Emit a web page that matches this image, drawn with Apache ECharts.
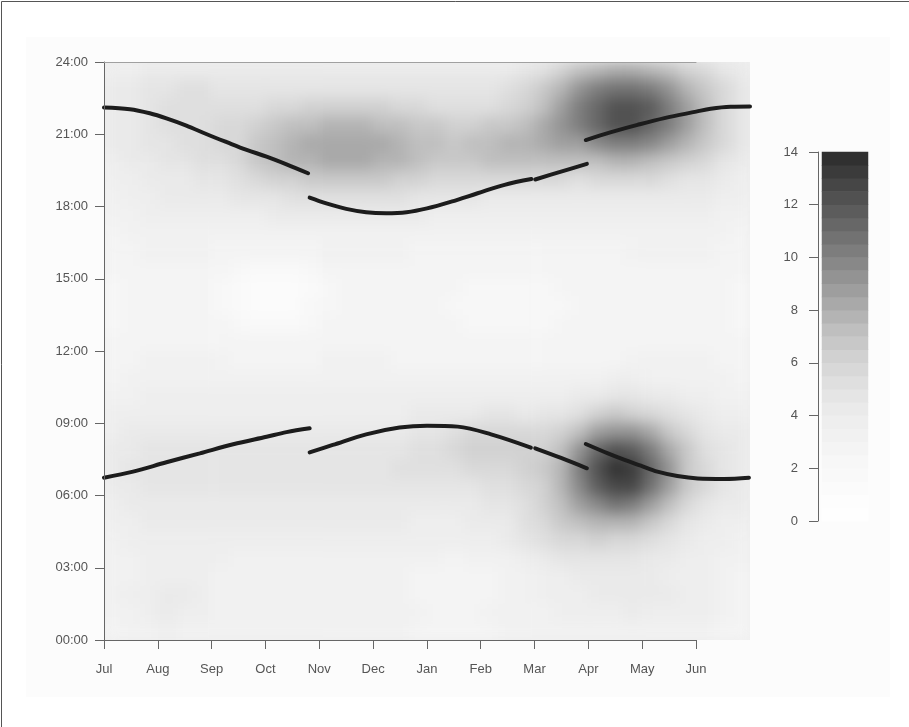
<!DOCTYPE html>
<html><head><meta charset="utf-8">
<script src="https://cdn.jsdelivr.net/npm/echarts@6/dist/echarts.min.js"></script>
<style>
html,body{margin:0;padding:0;background:#fff}
.abs{position:absolute}
#bg{left:0;top:0;width:909px;height:727px;background:#fff}
#panel{left:26px;top:37px;width:864px;height:660px;background:#fcfcfc}
#hw{left:104px;top:62px;width:646px;height:578px;overflow:hidden;background:#efefef}
#hm{width:646px;height:578px;filter:url(#sm)}
#c{left:0;top:0;width:909px;height:727px}
</style>
</head><body>
<svg width="0" height="0" style="position:absolute">
  <filter id="sm" x="0" y="0" width="1" height="1" filterUnits="objectBoundingBox" color-interpolation-filters="sRGB">
    <feGaussianBlur stdDeviation="7" edgeMode="duplicate"/>
  </filter>
</svg>
<div id="bg" class="abs"></div>
<div id="panel" class="abs"></div>
<div id="hw" class="abs"><div id="hm"></div></div>
<div id="c" class="abs"></div>
<script>
// ---- tick labels ----
const months = ['Jul','Aug','Sep','Oct','Nov','Dec','Jan','Feb','Mar','Apr','May','Jun'];
const timeTicks = ['00:00','03:00','06:00','09:00','12:00','15:00','18:00','21:00','24:00'];
const legendTicks = [0,2,4,6,8,10,12,14];
// colour bar levels (centres of the 0.5-wide bands)
const legendLevels = [0.25,0.75,1.25,1.75,2.25,2.75,3.25,3.75,4.25,4.75,5.25,5.75,6.25,6.75,7.25,7.75,8.25,8.75,9.25,9.75,10.25,10.75,11.25,11.75,12.25,12.75,13.25,13.75];

// ---- heat grid: 32 rows of 45 min (top row = 23:15-24:00), 36 columns of 1/3 month (from 1 Jul) ----
const heatRows = [
[3.5,3.9,4.2,4.3,4.3,4.3,4.2,4.1,4.1,4.0,4.0,4.1,4.1,4.1,4.1,4.1,4.0,4.0,4.0,4.0,4.0,4.1,4.3,4.8,5.4,6.1,7.0,7.7,8.2,8.2,7.8,7.1,6.3,5.5,4.6,4.0],
[4.0,4.3,4.8,4.9,5.0,5.0,4.8,4.8,4.7,4.7,4.7,4.8,4.9,4.9,4.9,4.8,4.7,4.7,4.6,4.5,4.6,4.7,5.0,5.6,6.5,7.7,9.0,10.1,10.8,10.9,10.3,9.2,7.9,6.7,5.5,4.6],
[4.1,4.4,4.9,5.1,5.2,5.2,5.2,5.2,5.3,5.7,5.9,6.0,6.1,6.2,6.1,6.0,5.9,5.7,5.2,5.1,5.1,5.3,5.7,6.3,7.3,8.6,10.1,11.4,12.3,12.4,11.6,10.3,8.8,7.3,5.9,4.8],
[4.1,4.4,4.8,5.0,5.1,5.3,5.5,5.7,6.4,6.8,7.1,7.3,7.5,7.6,7.5,7.3,7.1,6.8,6.5,6.2,6.3,6.5,6.9,7.4,8.1,9.2,10.1,11.3,12.0,12.1,11.4,10.2,8.7,7.3,5.9,4.9],
[4.0,4.3,4.6,4.8,5.0,5.2,5.5,5.9,6.8,7.2,7.7,8.0,8.2,8.3,8.2,8.0,7.7,7.3,7.1,6.8,7.1,7.3,7.5,7.8,8.1,8.6,8.8,9.6,10.1,10.2,9.7,8.7,7.6,6.5,5.5,4.7],
[3.9,4.1,4.4,4.6,4.8,5.0,5.4,5.7,6.7,7.1,7.5,7.9,8.1,8.2,8.1,7.9,7.5,7.2,6.9,6.7,6.9,7.0,7.1,7.1,7.1,7.3,7.2,7.4,7.7,7.7,7.4,6.8,6.2,5.5,4.8,4.2],
[3.7,3.9,4.2,4.3,4.4,4.6,4.9,5.2,5.5,6.1,6.4,6.7,6.9,6.9,6.9,6.7,6.4,6.2,5.6,5.5,5.8,5.8,5.8,5.7,5.6,5.6,5.4,5.5,5.6,5.7,5.5,5.2,4.9,4.6,4.2,3.8],
[3.4,3.7,3.9,4.0,4.0,4.2,4.3,4.5,4.7,4.9,5.1,5.2,5.3,5.3,5.3,5.2,5.1,4.9,4.7,4.6,4.5,4.4,4.4,4.3,4.3,4.3,4.3,4.4,4.4,4.4,4.4,4.3,4.1,4.0,3.7,3.5],
[3.1,3.3,3.5,3.6,3.6,3.7,3.7,3.8,3.9,4.0,4.1,4.1,4.2,4.2,4.2,4.1,4.0,4.0,3.9,3.8,3.7,3.6,3.6,3.6,3.6,3.6,3.6,3.6,3.7,3.7,3.7,3.6,3.6,3.6,3.3,3.1],
[2.8,3.0,3.2,3.2,3.2,3.2,3.2,3.2,3.2,3.2,3.3,3.4,3.4,3.4,3.4,3.4,3.4,3.3,3.2,3.2,3.1,3.1,3.1,3.1,3.1,3.1,3.1,3.1,3.2,3.2,3.2,3.2,3.2,3.2,3.0,2.8],
[2.6,2.8,3.0,3.0,3.0,3.0,2.9,2.8,2.6,2.5,2.6,2.8,3.0,3.0,3.1,3.1,3.0,2.9,2.9,2.8,2.8,2.7,2.7,2.7,2.8,2.8,2.8,2.9,2.9,3.0,3.0,3.0,3.0,3.0,2.8,2.6],
[2.5,2.7,2.9,2.9,2.9,2.8,2.6,2.3,1.9,1.7,1.9,2.3,2.6,2.8,2.9,2.9,2.8,2.8,2.7,2.6,2.6,2.5,2.5,2.5,2.6,2.6,2.7,2.8,2.8,2.9,2.9,2.9,2.9,2.9,2.7,2.5],
[2.4,2.6,2.8,2.8,2.8,2.7,2.4,1.8,1.3,1.1,1.4,1.9,2.4,2.7,2.8,2.8,2.7,2.6,2.5,2.5,2.4,2.3,2.3,2.3,2.4,2.5,2.5,2.6,2.7,2.8,2.8,2.8,2.8,2.8,2.6,2.4],
[2.4,2.6,2.8,2.8,2.8,2.7,2.4,1.9,1.3,1.1,1.4,2.0,2.4,2.7,2.8,2.8,2.7,2.6,2.5,2.4,2.4,2.3,2.3,2.3,2.4,2.4,2.5,2.6,2.7,2.8,2.8,2.8,2.8,2.8,2.6,2.4],
[2.4,2.6,2.8,2.8,2.8,2.7,2.5,2.2,1.9,1.7,1.9,2.3,2.6,2.7,2.8,2.8,2.7,2.6,2.6,2.5,2.4,2.4,2.3,2.4,2.4,2.5,2.6,2.6,2.7,2.8,2.8,2.8,2.8,2.8,2.6,2.4],
[2.5,2.7,2.9,2.9,2.9,2.9,2.8,2.7,2.5,2.5,2.5,2.7,2.8,2.9,2.9,2.9,2.8,2.8,2.7,2.6,2.6,2.6,2.5,2.6,2.6,2.6,2.7,2.8,2.8,2.9,2.9,2.9,2.9,2.9,2.7,2.5],
[2.6,2.8,3.0,3.0,3.0,3.0,3.0,2.9,2.9,2.9,2.9,2.9,3.0,3.0,3.0,3.0,2.9,2.9,2.9,2.8,2.8,2.8,2.8,2.8,2.8,2.8,2.9,2.9,2.9,3.0,3.0,3.0,3.0,3.0,2.8,2.6],
[2.8,3.0,3.2,3.2,3.2,3.2,3.2,3.2,3.2,3.2,3.2,3.2,3.2,3.2,3.2,3.2,3.2,3.1,3.1,3.1,3.1,3.1,3.1,3.1,3.1,3.2,3.3,3.4,3.5,3.5,3.4,3.4,3.3,3.2,3.0,2.8],
[3.1,3.3,3.5,3.5,3.5,3.5,3.5,3.5,3.5,3.5,3.5,3.5,3.5,3.5,3.5,3.5,3.5,3.5,3.5,3.5,3.5,3.5,3.5,3.6,3.6,3.8,4.1,4.3,4.5,4.5,4.3,4.0,3.8,3.6,3.3,3.1],
[3.5,3.7,3.9,3.9,3.9,3.9,3.9,3.9,3.9,3.9,3.9,3.9,3.9,3.9,3.9,3.9,3.9,4.0,4.1,4.2,4.4,4.5,4.5,4.4,4.5,4.9,5.4,6.1,6.5,6.4,5.8,5.1,4.5,4.2,3.8,3.5],
[3.9,4.1,4.3,4.3,4.3,4.3,4.3,4.3,4.3,4.3,4.3,4.3,4.3,4.3,4.3,4.3,4.4,4.5,4.8,5.2,5.5,5.7,5.7,5.5,5.6,6.2,7.3,8.5,9.3,9.1,8.0,6.7,5.5,4.8,4.3,4.0],
[4.2,4.4,4.8,4.8,4.8,4.8,4.8,4.8,4.8,4.8,4.8,4.8,4.8,4.8,4.8,4.8,4.9,5.0,5.2,5.7,6.2,6.4,6.4,6.2,6.4,7.4,9.1,11.0,12.1,11.8,10.3,8.2,6.5,5.4,4.7,4.3],
[4.3,4.5,4.9,4.9,4.9,4.9,4.9,4.9,4.9,4.9,4.9,4.9,4.9,4.9,4.9,4.9,5.0,5.0,5.1,5.4,5.7,5.9,5.9,6.0,6.6,7.9,10.1,12.3,13.6,13.3,11.4,9.0,6.9,5.7,4.8,4.4],
[4.2,4.4,4.6,4.6,4.6,4.6,4.6,4.6,4.6,4.6,4.6,4.6,4.6,4.6,4.6,4.6,4.6,4.7,4.7,4.8,4.9,5.0,5.2,5.5,6.3,7.7,9.7,11.8,12.9,12.5,10.8,8.5,6.7,5.5,4.7,4.3],
[3.9,4.1,4.3,4.3,4.3,4.3,4.3,4.3,4.3,4.3,4.3,4.3,4.3,4.3,4.3,4.3,4.3,4.3,4.3,4.3,4.4,4.5,4.7,5.2,6.0,7.1,8.6,9.9,10.5,10.1,8.8,7.1,5.8,4.9,4.3,4.0],
[3.6,3.8,4.0,4.0,4.0,4.0,4.0,4.0,4.0,4.0,4.0,4.0,4.0,4.0,4.0,4.0,4.0,3.9,3.9,3.9,4.0,4.1,4.4,5.0,5.7,6.5,7.3,7.9,7.9,7.5,6.6,5.6,4.9,4.4,3.9,3.6],
[3.3,3.6,3.8,3.8,3.8,3.8,3.7,3.7,3.7,3.7,3.7,3.7,3.7,3.7,3.7,3.7,3.6,3.5,3.5,3.5,3.5,3.7,4.0,4.5,5.1,5.6,5.9,6.0,5.9,5.6,5.1,4.6,4.2,3.9,3.6,3.3],
[3.1,3.4,3.7,3.7,3.7,3.6,3.5,3.4,3.4,3.4,3.4,3.4,3.4,3.4,3.4,3.3,3.2,3.1,3.0,2.9,3.0,3.1,3.4,3.8,4.2,4.5,4.7,4.7,4.7,4.5,4.3,4.1,3.8,3.7,3.3,3.1],
[3.0,3.3,3.8,3.9,3.8,3.6,3.4,3.3,3.2,3.2,3.2,3.2,3.2,3.2,3.2,3.1,3.0,2.8,2.7,2.6,2.6,2.8,3.0,3.3,3.6,3.8,4.0,4.2,4.3,4.2,4.1,3.9,3.7,3.6,3.2,2.9],
[3.0,3.5,3.9,4.1,4.0,3.7,3.4,3.3,3.2,3.2,3.2,3.2,3.2,3.2,3.2,3.1,3.0,2.9,2.7,2.7,2.7,2.8,3.0,3.2,3.5,3.7,3.9,4.0,4.2,4.2,4.1,4.0,3.8,3.6,3.2,2.9],
[3.0,3.4,3.9,4.0,3.9,3.7,3.4,3.3,3.2,3.2,3.2,3.2,3.2,3.2,3.2,3.1,3.1,3.0,2.9,2.9,2.9,3.0,3.1,3.2,3.4,3.5,3.7,3.8,3.9,4.0,3.9,3.8,3.6,3.5,3.2,2.9],
[2.7,3.0,3.4,3.5,3.4,3.3,3.1,3.0,3.0,3.0,3.0,3.0,3.0,3.0,3.0,3.0,3.0,2.9,2.9,2.9,2.9,2.9,3.0,3.0,3.1,3.2,3.3,3.3,3.4,3.4,3.4,3.3,3.2,3.2,2.9,2.7]
];

// ---- sunrise / sunset segments: [months since 1 Jul, hour of day] ----
const sunset1 = [[0,22.11],[0.48,22.04],[0.85,21.87],[1.16,21.66],[1.53,21.36],[1.91,21.0],[2.28,20.67],[2.65,20.35],[3.02,20.07],[3.39,19.75],[3.79,19.38]];
const sunset2 = [[3.82,18.37],[4.13,18.13],[4.5,17.9],[4.87,17.76],[5.24,17.72],[5.62,17.76],[6.0,17.92],[6.45,18.2],[6.94,18.55],[7.44,18.9],[7.94,19.14]];
const sunset3 = [[8.01,19.12],[8.49,19.45],[8.97,19.77]];
const sunset4 = [[8.95,20.76],[9.42,21.09],[9.91,21.39],[10.41,21.67],[11.0,21.94],[11.27,22.06],[11.64,22.14],[12.0,22.15]];
const sunrise1 = [[0,6.74],[0.54,6.99],[1.16,7.38],[1.78,7.75],[2.4,8.13],[3.02,8.44],[3.39,8.63],[3.82,8.79]];
const sunrise2 = [[3.82,7.79],[4.25,8.1],[4.87,8.54],[5.49,8.82],[6.0,8.9],[6.57,8.86],[7.19,8.54],[7.93,7.99]];
const sunrise3 = [[8.01,7.96],[8.49,7.56],[8.97,7.13]];
const sunrise4 = [[8.95,8.14],[9.36,7.75],[9.67,7.48],[9.97,7.24],[10.28,6.99],[10.65,6.81],[11.03,6.71],[11.52,6.69],[11.98,6.74]];

// ---- styles ----
const grayStops = [[0,254],[1,252],[2,248],[3,243],[4,236],[5,226],[6,213],[7,196],[8,174],[9,152],[10,130],[11,108],[12,86],[13,64],[14,42]];
function grayAt(v){
  for (let i=0;i<grayStops.length-1;i++){
    const a=grayStops[i], b=grayStops[i+1];
    if (v<=b[0]) { const t=(v-a[0])/(b[0]-a[0]); const g=Math.round(a[1]+(b[1]-a[1])*t); return 'rgb('+g+','+g+','+g+')'; }
  }
  const g=grayStops[grayStops.length-1][1]; return 'rgb('+g+','+g+','+g+')';
}
const pieces = [];
for (let k=0;k<28;k++){
  const p = {gte:k*0.5, color:grayAt(k*0.5+0.25)};
  if (k<27) p.lt=(k+1)*0.5; else p.lte=100;
  pieces.push(p);
}

const nRows = heatRows.length, nCols = heatRows[0].length;
const heatData = [];
heatRows.forEach((row,i)=>row.forEach((v,c)=>heatData.push([c, nRows-1-i, v])));
const colCats = Array.from({length:nCols},(_,i)=>String(i));
const rowCats = Array.from({length:nRows},(_,i)=>String(i));
const barData = legendLevels.map((v,k)=>[0,k,v]);
const barCats = legendLevels.map((_,k)=>String(k));

const FONT = 'Liberation Sans, Arial, sans-serif';
const AX = '#666';

// ---- heat field (separate layer, smoothed by an SVG blur) ----
const heat = echarts.init(document.getElementById('hm'), null, {renderer:'canvas'});
heat.setOption({
  backgroundColor:'transparent', animation:false,
  grid:{left:0, top:0, right:0, bottom:0, outerBoundsMode:'none'},
  xAxis:{type:'category', data:colCats, show:false, boundaryGap:true},
  yAxis:{type:'category', data:rowCats, show:false, boundaryGap:true},
  visualMap:{type:'piecewise', show:false, dimension:2, pieces},
  series:[{type:'heatmap', data:heatData, silent:true, progressive:0,
    itemStyle:{borderWidth:0}, emphasis:{disabled:true}}]
});

// ---- axes, lines, colour bar ----
const lineSeries = (data) => ({
  type:'line', xAxisIndex:0, yAxisIndex:0, data, showSymbol:false, smooth:0.35, clip:false, z:5,
  lineStyle:{color:'#1c1c1c', width:4, cap:'round'}, silent:true, animation:false
});
const chart = echarts.init(document.getElementById('c'), null, {renderer:'canvas'});
chart.setOption({
  backgroundColor:'transparent',
  animation:false,
  graphic:[
    {type:'line', shape:{x1:1.5, y1:1.5, x2:909, y2:1.5}, style:{stroke:'#555', lineWidth:1}},
    {type:'line', shape:{x1:1.5, y1:1.5, x2:1.5, y2:727}, style:{stroke:'#555', lineWidth:1}}
  ],
  grid:[
    {left:104, top:62, width:646, height:578, outerBoundsMode:'none'},
    {left:104, top:62, width:592, height:578, outerBoundsMode:'none'},
    {left:822, top:152, width:46, height:369, outerBoundsMode:'none'},
    {left:818, top:152, width:50, height:369, outerBoundsMode:'none'}
  ],
  xAxis:[
    {gridIndex:0, type:'value', min:0, max:12, show:false},
    {gridIndex:1, type:'value', min:0, max:11, interval:1, position:'bottom', z:10,
      axisLine:{show:true, lineStyle:{color:AX, width:1}},
      axisTick:{show:true, length:9, lineStyle:{color:AX}},
      axisLabel:{show:true, margin:23, fontSize:13, fontFamily:FONT, color:'#555', showMinLabel:true, showMaxLabel:true,
        formatter:(v)=>months[Math.round(v)]||''},
      splitLine:{show:false}},
    {gridIndex:1, type:'value', min:0, max:11, position:'top', z:10,
      axisLine:{show:true, lineStyle:{color:'#a0a0a0', width:1}},
      axisTick:{show:false}, axisLabel:{show:false}, splitLine:{show:false}},
    {gridIndex:2, type:'category', data:['0'], show:false, boundaryGap:true},
    {gridIndex:3, type:'value', show:false, min:0, max:1}
  ],
  yAxis:[
    {gridIndex:0, type:'value', min:0, max:24, interval:3, z:10,
      axisLine:{show:true, lineStyle:{color:AX, width:1}},
      axisTick:{show:true, length:9, lineStyle:{color:AX}},
      axisLabel:{show:true, margin:16, fontSize:13, fontFamily:FONT, color:'#555', showMinLabel:true, showMaxLabel:true,
        formatter:(v)=>timeTicks[Math.round(v/3)]},
      splitLine:{show:false}},
    {gridIndex:1, type:'value', min:0, max:24, show:false},
    {gridIndex:2, type:'category', data:barCats, show:false, boundaryGap:true},
    {gridIndex:3, type:'value', min:0, max:14, interval:2, z:10,
      axisLine:{show:true, lineStyle:{color:AX, width:1}},
      axisTick:{show:true, length:9, lineStyle:{color:AX}},
      axisLabel:{show:true, margin:20, fontSize:13, fontFamily:FONT, color:'#555', showMinLabel:true, showMaxLabel:true,
        formatter:(v)=> legendTicks.indexOf(v)>=0 ? String(v) : ''},
      splitLine:{show:false}}
  ],
  visualMap:{type:'piecewise', show:false, dimension:2, seriesIndex:[0], pieces},
  series:[
    {type:'heatmap', xAxisIndex:3, yAxisIndex:2, data:barData, silent:true, progressive:0,
      itemStyle:{borderWidth:0}, emphasis:{disabled:true}},
    lineSeries(sunset1), lineSeries(sunset2), lineSeries(sunset3), lineSeries(sunset4),
    lineSeries(sunrise1), lineSeries(sunrise2), lineSeries(sunrise3), lineSeries(sunrise4)
  ]
});
</script></body></html>
